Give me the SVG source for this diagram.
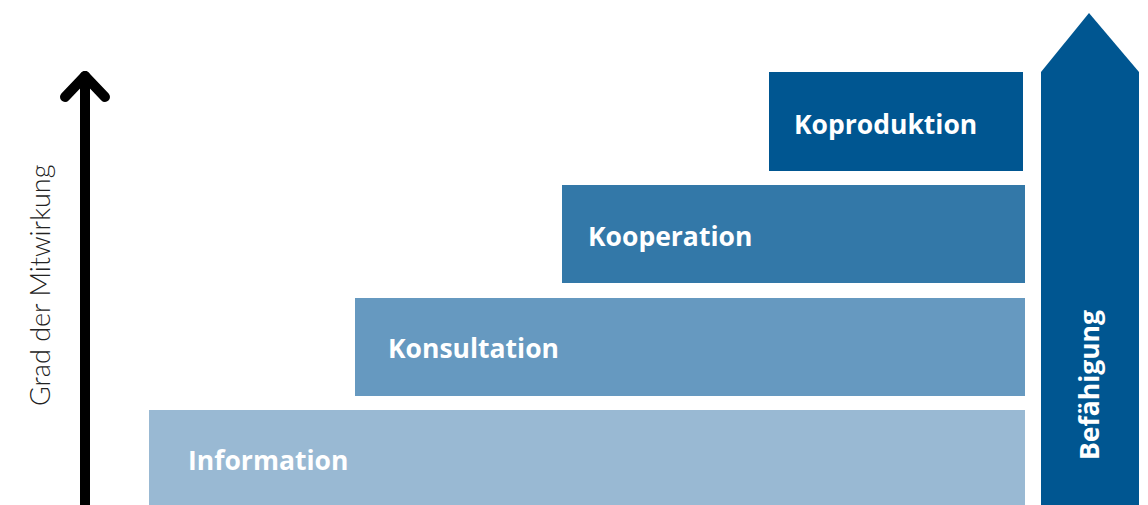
<svg xmlns="http://www.w3.org/2000/svg" width="1148" height="505" viewBox="0 0 1148 505">
<style>
.lbl{font-family:"Open Sans","DejaVu Sans",sans-serif;font-weight:700;font-size:26.5px;fill:#fff}
.axis{font-family:Lato,"Liberation Sans",sans-serif;font-weight:300;font-size:27px;fill:#222}
</style>
<rect width="1148" height="505" fill="#fff"/>
<g id="connectors">
<g id="axis-arrow" fill="none" stroke="#000" stroke-width="10" stroke-linecap="round" stroke-linejoin="round">
<line x1="85" y1="505" x2="85" y2="76"/>
<polyline points="65,97 85,76 105,97"/>
</g>
</g>
<g id="axis-label"><text class="axis" transform="translate(50,406) rotate(-90)">Grad der Mitwirkung</text></g>
<g id="information"><rect x="149" y="410" width="876" height="95" fill="#99b9d3"/><text class="lbl" x="188" y="470">Information</text></g>
<g id="konsultation"><rect x="355" y="298" width="670" height="98" fill="#6699c0"/><text class="lbl" x="388" y="358">Konsultation</text></g>
<g id="kooperation"><rect x="562" y="185" width="463" height="98" fill="#3378a8"/><text class="lbl" x="588" y="246">Kooperation</text></g>
<g id="koproduktion"><rect x="769" y="72" width="254" height="99" fill="#005691"/><text class="lbl" x="794" y="134">Koproduktion</text></g>
<g id="befaehigung"><polygon points="1041,505 1041,72 1089,13 1139,72 1139,505" fill="#005691"/><text class="lbl" transform="translate(1099,460) rotate(-90)">Befähigung</text></g>
</svg>
